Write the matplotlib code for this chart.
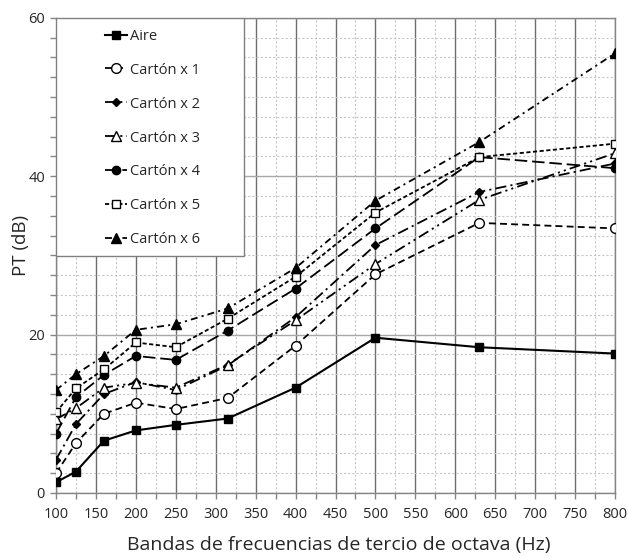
import matplotlib
matplotlib.use("Agg")
import matplotlib.pyplot as plt
from matplotlib.patches import Rectangle
from matplotlib.ticker import MultipleLocator

plt.rcParams["font.family"] = ["Open Sans", "DejaVu Sans"]
plt.rcParams["lines.scale_dashes"] = False

# ── Data ─────────────────────────────────────────────────────────────────────
freqs = [100, 125, 160, 200, 250, 315, 400, 500, 630, 800]

aire    = [1.35, 2.7, 6.6, 7.9, 8.6, 9.4, 13.3, 19.6, 18.4, 17.6]
carton1 = [2.5, 6.3, 10.0, 11.4, 10.6, 12.0, 18.6, 27.6, 34.1, 33.4]
carton2 = [4.2, 8.7, 12.5, 14.0, 13.0, 16.1, 22.2, 31.3, 38.0, 41.6]
carton3 = [9.3, 10.7, 13.3, 13.9, 13.3, 16.2, 21.8, 28.9, 37.0, 42.9]
carton4 = [7.5, 12.1, 14.9, 17.3, 16.8, 20.5, 25.8, 33.4, 42.4, 41.0]
carton5 = [10.2, 13.2, 15.6, 19.0, 18.4, 22.0, 27.3, 35.4, 42.4, 44.1]
carton6 = [13.0, 15.0, 17.3, 20.6, 21.3, 23.3, 28.4, 36.9, 44.3, 55.5]

labels = ["Aire", "Cartón x 1", "Cartón x 2", "Cartón x 3",
          "Cartón x 4", "Cartón x 5", "Cartón x 6"]

# style per series: marker, filled?, marker size, dash pattern (points)
STYLES = [
    {"marker": "s", "fill": True,  "ms": 6.0, "dashes": None,                    "lw": 1.5},
    {"marker": "o", "fill": False, "ms": 7.0, "dashes": (5, 3),                  "lw": 1.3},
    {"marker": "D", "fill": True,  "ms": 4.5, "dashes": (8, 3, 1.5, 3),          "lw": 1.3},
    {"marker": "^", "fill": False, "ms": 7.0, "dashes": (8, 3, 1.5, 3, 1.5, 3),  "lw": 1.3},
    {"marker": "o", "fill": True,  "ms": 6.0, "dashes": (9, 3.5),                "lw": 1.3},
    {"marker": "s", "fill": False, "ms": 6.0, "dashes": (3, 1.8),                "lw": 1.3},
    {"marker": "^", "fill": True,  "ms": 6.5, "dashes": (5, 3, 1.5, 3),          "lw": 1.3},
]

series = [aire, carton1, carton2, carton3, carton4, carton5, carton6]

fig = plt.figure(figsize=(6.28, 5.58), dpi=100)
fig.patch.set_facecolor("white")
ax = fig.add_axes([56 / 628, 1 - 493 / 558, 559 / 628, 475.3 / 558])

handles = []
for vals, lab, st in zip(series, labels, STYLES):
    (ln,) = ax.plot(
        freqs, vals,
        color="black",
        linewidth=st["lw"],
        marker=st["marker"],
        markersize=st["ms"],
        markerfacecolor="black" if st["fill"] else "white",
        markeredgecolor="black",
        markeredgewidth=1.0,
        label=lab,
        zorder=5,
    )
    if st["dashes"] is not None:
        ln.set_dashes(st["dashes"])
    handles.append(ln)

# ── Axes / grid ──────────────────────────────────────────────────────────────
ax.set_xlim(100, 800)
ax.set_ylim(0, 60)
ax.xaxis.set_major_locator(MultipleLocator(50))
ax.xaxis.set_minor_locator(MultipleLocator(25))
ax.yaxis.set_major_locator(MultipleLocator(20))
ax.yaxis.set_minor_locator(MultipleLocator(2.5))

ax.grid(True, which="minor", axis="both", color="#c4c4c4", linewidth=0.8,
        linestyle=(0, (1.5, 1.5)), zorder=0)
ax.grid(True, which="major", axis="x", color="#6e6e6e", linewidth=1.0, zorder=1)
ax.grid(True, which="major", axis="y", color="#a8a8a8", linewidth=1.0, zorder=1)
ax.set_axisbelow(True)

for spine in ax.spines.values():
    spine.set_edgecolor("#868686")
    spine.set_linewidth(1.0)

ax.tick_params(which="both", direction="out", length=4, width=1.0,
               color="#868686", labelsize=10.5, labelcolor="#262626")
ax.tick_params(axis="x", which="major", pad=6)
ax.tick_params(axis="y", which="major", pad=4)

ax.set_xlabel("Bandas de frecuencias de tercio de octava (Hz)",
              fontsize=14, color="#262626")
ax.set_ylabel("PT (dB)", fontsize=13.5, color="#262626")
ax.xaxis.set_label_coords(0.505, -0.091)
ax.yaxis.set_label_coords(-0.046, 0.52)

# ── Legend box (sized like the reference) ───────────────────────────────────
ax.add_patch(Rectangle((0.0, 0.4986), 0.336, 0.5014, transform=ax.transAxes,
                       facecolor="white", edgecolor="#808080", linewidth=1.0,
                       zorder=6))
leg = ax.legend(
    handles=handles,
    loc="upper left",
    bbox_to_anchor=(0.0877, 0.977),
    frameon=False,
    borderpad=0,
    borderaxespad=0,
    handlelength=1.5,
    handletextpad=0.2,
    labelspacing=1.3,
    fontsize=10.5,
)
leg.set_zorder(7)
for t in leg.get_texts():
    t.set_color("#262626")

fig.savefig("out.png", dpi=100)
